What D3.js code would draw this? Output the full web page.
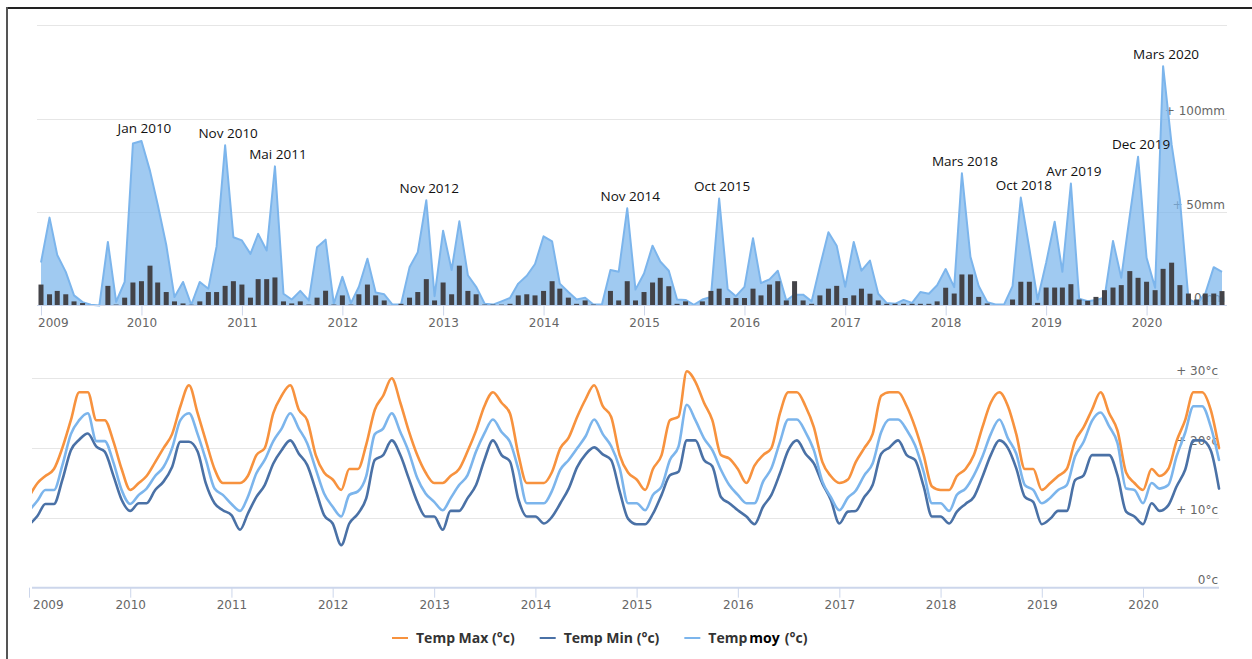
<!DOCTYPE html>
<html><head><meta charset="utf-8">
<script src="https://cdn.jsdelivr.net/npm/d3@7"></script>
<style>
html,body{margin:0;padding:0;background:#fff;}
svg{display:block;}
</style></head><body>
<svg id="c" width="1252" height="659"></svg>
<script>
// ---------------- DATA ----------------
const startMonth = "2009-01";
// cumulative / max rain (area), mm
const rainArea = [23,47,27,18,5.4,1.8,0.4,0,34,2,12.6,86.6,
 88,72,54,32.5,4.5,12.6,0.4,12.6,9,31.6,85.7,36.5,
 34.8,27.6,38.3,29.4,74.4,6.3,3.2,7.8,2.7,31.2,35.2,0.9,
 15.3,1.3,10,25,6.9,6,0.5,0.5,20.4,28.5,56.3,5,
 40,19,45,16.2,10,0.9,0.5,2.2,4,11.7,15.9,22.2,
 37,34.3,11.7,7.2,3.2,4.2,0.5,0.5,19,18,52,8.5,
 17.1,32,23.5,18.6,3.2,3,0.4,3.2,4.5,57.2,8.7,5,
 10,36,12,14,18.6,2.7,5.8,5.8,2.2,20.8,39.2,32,
 10,34,18.6,24,6.3,1.3,0.9,3,1.4,7.2,6.3,10.8,
 19.5,9.8,70.7,26,10.4,1.8,0.5,0.5,10.4,57.7,30.5,3.2,
 22.9,44.8,18,65.2,3.6,2.3,2.9,4.1,34.5,14.8,48,79.5,
 25.5,9.5,128,86,56.8,3.6,1.1,6.3,20.5,18];
// monthly rain (bars), mm
const rainBars = [11.2,6,7.8,6,2.2,1.3,0,0,10.5,0.5,4.2,12.3,
 13,21.3,12.3,7.2,2.2,1.1,0.4,2.2,7.2,7.2,10.5,13,
 11.2,4.2,14.1,14.1,15,2.2,1.1,2.2,0.5,4.2,7.9,0.5,
 5.4,0.5,6,11.2,5.4,2.7,0,0.9,4.2,7.2,14.1,2.7,
 12.3,6,21.3,7.8,6,0.5,0.5,0.5,0.9,5.4,6,5.4,
 7.8,13,9,4.2,0.9,2.7,0.5,0,7.8,2.7,13,2.7,
 7.2,12.3,14.8,10.3,0.9,2.2,0,2.2,7.8,9,4,4,
 4,9,5.4,11.2,13,2.7,13,2.7,0.9,5.4,9,10.5,
 4,5.4,9,6.3,2.7,0.9,0.9,0.9,0.9,0.9,0.9,2.2,
 9.5,6.4,16.6,16.6,4.6,1.1,0,0,3.2,12.7,12.7,1.4,
 9.6,9.6,9.6,11.4,3.2,2.5,4.6,8.2,9.6,10.9,18.4,14.8,
 12.7,8.2,19.6,22.9,10.9,6.4,3.2,6.4,6.4,7.7];
const tempMax = [13,15,16,17,20,24,28,28,24,24,21,17,
 14,15,16,18,20,22,26,29,25,21,17,15,
 15,15,16,19,20,25,27.5,29,25.5,24,19,16.5,
 15.5,14,17,17,20.5,25.5,27.5,30,26.5,22.5,19,16.5,
 15,15,16,17,19.5,22.5,26,28,26.5,25,19,15,
 15,15,16.5,20,21.5,24.5,27,29,26,24.5,19,16.5,
 15.5,14,17,19,24,24.5,31,29.5,26.5,24,19,18.5,
 17,15,17.5,19,20,25,28,28,26,23,18,16,
 15,15.5,18,20,22,27.5,28,28,26,23,19,14.5,
 14,14,16,17,19,23,26.5,28,26,22,17,17,
 14,15,16,17,21,23,25.5,28,25,22.5,16.5,15,
 14,17,16,17,21,24,28,28,25.5,20];
const tempMin = [9,10.3,12,12,15.4,19.7,21.2,22.1,20.2,19.5,16.1,12.6,
 11,12.1,12.1,14,15.2,17.3,20.9,20.9,19.5,14.9,12.1,11.1,
 10.4,8.3,10.6,13,14.7,17.8,19.7,21.1,19.2,17.6,14,10.4,
 9.2,6.1,9.2,10.6,12.8,18.3,19,21.1,19,15.7,12.3,10.2,
 10.2,8.3,11,11,12.8,14.7,18.3,21.1,19,18.1,12.6,10.2,
 10.2,9.2,10.1,12.1,14.2,17.3,19.1,20.1,19.1,18.3,13.8,9.9,
 9.1,9.1,10.6,13.3,16.1,16.6,21.1,21.1,18.3,17.4,13,12.1,
 11.1,10.2,9.1,11.6,13.3,16.4,19.7,21.1,19.2,17.8,14.9,12.6,
 9.2,10.9,11,13,14.7,19.2,20.1,21.1,19,18.3,14.5,10.2,
 10.2,9.2,10.9,12,13,15.9,19,21.1,20,17.1,13,12.3,
 9.1,9.9,11,11,15.4,16.1,19,19,19,16.1,10.9,10.2,
 9.1,12.1,11,11.8,14.5,16.9,21.1,21.1,19.7,14.2];
const tempMoy = [11,12.5,14,14,17.5,22,24,25,21,21,18,14,
 12,13.3,14.2,16,17.3,20,24,25,22,18.3,14.2,13.3,
 12,11,13,16.4,18.3,21,22.8,25,22.8,20.7,17,13.5,
 11.6,10.2,13.3,13.8,16,22,22.8,25,22.3,19.5,15.7,13.5,
 12.3,11.1,12.8,14.7,16.1,19.5,22.1,24.1,22.3,20.9,16.9,12.1,
 12.1,12.1,13.8,16.9,18.3,20,21.7,24.1,22,20.3,17.1,12.1,
 12.1,11.1,13.3,14.5,18.3,20.2,26.2,24,21.4,19.7,16.9,14.7,
 13.3,12.1,12.1,15.2,17.1,20.9,24.1,24.1,22.3,19.7,15.2,13,
 11.1,12.9,13.9,16.1,17.8,22.3,24.1,24.1,22.6,20.4,16.6,12.1,
 12.1,11,13.3,14.2,16.1,18.8,22,24.1,21.4,19.2,14.7,14,
 12.1,12.9,14,14.7,18.8,20.9,23.9,25.1,23.1,20.7,14.2,14,
 12.1,15,14.2,14.7,18.8,22.2,26,26,23.1,18.3];
const yearTicks = [2009,2010,2011,2012,2013,2014,2015,2016,2017,2018,2019,2020];
const rainGrid = [50,100,150];
const rainTickVals = [0,50,100];
const rainTickLabels = ["0mm","+ 50mm","+ 100mm"];
const tempGrid = [10,20,30];
const tempTickVals = [0,10,20,30];
const tempTickLabels = ["0°c","+ 10°c","+ 20°c","+ 30°c"];
const peakLabels = ["Jan 2010","Nov 2010","Mai 2011","Nov 2012","Nov 2014","Oct 2015","Mars 2018","Oct 2018","Avr 2019","Dec 2019","Mars 2020"];
const peakMonths = ["2010-01","2010-11","2011-05","2012-11","2014-11","2015-10","2018-03","2018-10","2019-04","2019-12","2020-03"];
const legendNames = ["Temp Max (°c)","Temp Min (°c)","Temp moy (°c)"];

// ---------------- DRAW ----------------
const svg = d3.select("#c");
const parse = d3.timeParse("%Y-%m");
const t0 = parse(startMonth);
const dates = d3.range(rainArea.length).map(i => d3.timeMonth.offset(t0, i));
const last = dates[dates.length-1];
const yearDates = yearTicks.map(y => new Date(y,0,1));
const AX_FONT = "DejaVu Sans, Verdana, sans-serif";
const AX_COL = "#666666";

// border
svg.append("line").attr("x1",7).attr("x2",1252).attr("y1",8).attr("y2",8).attr("stroke","#222").attr("stroke-width",2);
svg.append("line").attr("x1",7).attr("x2",7).attr("y1",7).attr("y2",659).attr("stroke","#555").attr("stroke-width",2);

// ---- top chart (rain)
const T = {left:37, right:1227};
const xT = d3.scaleTime().domain([dates[0], last]).range([41, 1222]);
const yT = d3.scaleLinear().domain([0,150]).range([305.5, 25]);
const gT = svg.append("g");
gT.selectAll("line.grid").data(rainGrid).join("line")
  .attr("x1",T.left).attr("x2",T.right).attr("y1",d=>Math.round(yT(d))+0.5).attr("y2",d=>Math.round(yT(d))+0.5)
  .attr("stroke","#e6e6e6").attr("stroke-width",1);
gT.selectAll("text.yl").data(rainTickVals).join("text")
  .attr("x",1225).attr("y",d=>yT(d)-3.5).attr("text-anchor","end")
  .attr("font-family",AX_FONT).attr("font-size",12).attr("fill",AX_COL)
  .text((d,i)=>rainTickLabels[i]);
const rainData = dates.map((d,i)=>({date:d, v:rainArea[i], b:rainBars[i]}));
gT.append("path").datum(rainData)
  .attr("d", d3.area().x(d=>xT(d.date)).y0(yT(0)).y1(d=>yT(d.v)))
  .attr("fill","#7cb5ec").attr("fill-opacity",0.72);
gT.append("path").datum(rainData)
  .attr("d", d3.line().x(d=>xT(d.date)).y(d=>yT(d.v)))
  .attr("fill","none").attr("stroke","#7cb5ec").attr("stroke-width",2).attr("stroke-linejoin","round");
gT.selectAll("rect.bar").data(rainData).join("rect")
  .attr("x",d=>xT(d.date)-2.5).attr("width",5)
  .attr("y",d=>yT(d.b)).attr("height",d=>yT(0)-yT(d.b))
  .attr("fill","#434348");
// top axis
gT.append("line").attr("x1",T.left).attr("x2",T.right).attr("y1",305.5).attr("y2",305.5).attr("stroke","#ccd6eb");
const axT = gT.append("g").attr("transform","translate(0,305.5)")
  .call(d3.axisBottom(xT).tickValues(yearDates).tickSize(10).tickFormat(d3.timeFormat("%Y")));
function styleAxis(ax, plotLeft){
  ax.select(".domain").remove();
  ax.selectAll(".tick line").attr("stroke","#ccd6eb");
  ax.selectAll(".tick text").attr("font-family",AX_FONT).attr("font-size",12).attr("fill",AX_COL);
  ax.selectAll(".tick").each(function(d){
    const tx = this.transform.baseVal.consolidate().matrix.e;
    const t = d3.select(this).select("text");
    const w = t.node().getComputedTextLength();
    if (tx - w/2 < plotLeft) t.attr("text-anchor","start").attr("x", plotLeft - tx);
  });
}
styleAxis(axT, T.left+1);
// peak labels
const peakIdx = peakMonths.map(m => d3.timeMonth.count(t0, parse(m)));
gT.selectAll("text.peak").data(peakIdx).join("text")
  .attr("x",i=>xT(dates[i])+3).attr("y",i=>yT(rainArea[i])-7.5)
  .attr("text-anchor","middle").attr("font-family","Open Sans, sans-serif").attr("font-size",13.5)
  .attr("fill","#111").text((d,k)=>peakLabels[k]);

// ---- bottom chart (temperature)
const B = {left:32, right:1219};
const xB = d3.scaleTime().domain([dates[0], last]).range([29, 1219]);
const yB = d3.scaleLinear().domain([0,30]).range([587.7, 378.3]);
const gB = svg.append("g");
svg.append("defs").append("clipPath").attr("id","clipB").append("rect")
  .attr("x",B.left).attr("y",360).attr("width",B.right-B.left+3).attr("height",240);
gB.selectAll("line.grid").data(tempGrid).join("line")
  .attr("x1",B.left).attr("x2",B.right).attr("y1",d=>Math.round(yB(d))+0.5).attr("y2",d=>Math.round(yB(d))+0.5)
  .attr("stroke","#e6e6e6").attr("stroke-width",1);
gB.append("line").attr("x1",B.left).attr("x2",B.right).attr("y1",yB(0)).attr("y2",yB(0)).attr("stroke","#ccd6eb").attr("stroke-width",2);
gB.selectAll("text.yl").data(tempTickVals).join("text")
  .attr("x",1218).attr("y",d=>yB(d)-3.5).attr("text-anchor","end")
  .attr("font-family",AX_FONT).attr("font-size",12).attr("fill",AX_COL)
  .text((d,i)=>tempTickLabels[i]);
const axB = gB.append("g").attr("transform",`translate(0,${yB(0)})`)
  .call(d3.axisBottom(xB).tickValues(yearDates).tickSize(10).tickFormat(d3.timeFormat("%Y")));
styleAxis(axB, B.left+1);
const series = [
  {name:legendNames[0], vals:tempMax, color:"#f7923e"},
  {name:legendNames[1], vals:tempMin, color:"#4a71a6"},
  {name:legendNames[2], vals:tempMoy, color:"#7cb5ec"}
];
const lineB = d3.line().x((v,i)=>xB(dates[i])).y(v=>yB(v)).curve(d3.curveMonotoneX);
const gL = gB.append("g").attr("clip-path","url(#clipB)");
series.forEach(s=>{
  gL.append("path").attr("d", lineB(s.vals)).attr("fill","none")
    .attr("stroke",s.color).attr("stroke-width",2.6).attr("stroke-linejoin","round").attr("stroke-linecap","round");
});

// ---- legend
const gLeg = svg.append("g");
let lx = 392;
const ly = 638;
series.forEach((s,k)=>{
  const it = gLeg.append("g");
  it.append("line").attr("x1",lx).attr("x2",lx+16).attr("y1",ly).attr("y2",ly).attr("stroke",s.color).attr("stroke-width",2);
  const t = it.append("text").attr("x",lx+24).attr("y",ly+5)
    .attr("font-family","Open Sans, sans-serif").attr("font-size",14).attr("font-weight","bold").attr("fill","#333333");
  if (k===2){
    const parts = s.name.split(" ");
    t.append("tspan").text(parts[0]);
    t.append("tspan").attr("dx",2).attr("fill","#000").text(parts[1]);
    t.append("tspan").attr("dx",5).text(parts[2]);
  } else t.text(s.name);
  lx += 24 + t.node().getComputedTextLength() + 25;
});
</script>
</body></html>
